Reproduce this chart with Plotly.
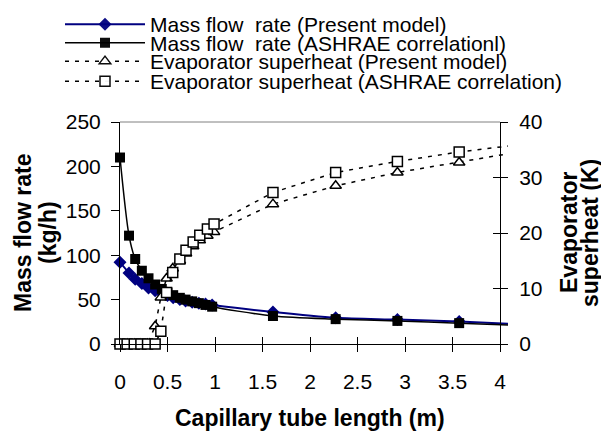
import plotly.graph_objects as go

# ---- data ----
length_mass = [0, 0.095, 0.16, 0.23, 0.30, 0.37, 0.44, 0.50, 0.56, 0.63, 0.69, 0.76, 0.83, 0.90, 0.97, 1.61, 2.27, 2.92, 3.57, 4.2]
mass_present = [92, 80, 73, 68, 63, 60, 57, 54.5, 52, 50, 48.5, 47, 46, 45, 44, 36, 29.5, 27.5, 25.3, 22.4]
mass_ashrae = [210, 122, 95.7, 82.5, 74, 67, 62, 58, 55, 52, 50, 48, 46, 44, 42, 31.5, 28, 26, 23.5, 21]

length_sh = [0, 0.075, 0.15, 0.22, 0.29, 0.37, 0.43, 0.49, 0.555, 0.63, 0.695, 0.77, 0.84, 0.92, 0.99, 1.61, 2.27, 2.92, 3.57, 4.2]
sh_present = [0, 0, 0, 0, 0, 3.2, 8.4, 11.8, 13.6, 15.0, 16.3, 17.6, 18.7, 19.5, 20.2, 25.2, 28.5, 30.9, 32.7, 34.6]
sh_ashrae = [0, 0, 0, 0, 0, 0, 2.3, 9.3, 12.9, 15.3, 16.9, 18.4, 19.6, 20.7, 21.6, 27.3, 30.9, 32.9, 34.6, 35.9]

x_ticks = [0, 0.5, 1, 1.5, 2, 2.5, 3, 3.5, 4]
x_ticktext = ["0", "0.5", "1", "1.5", "2", "2.5", "3", "3.5", "4"]
y_ticks = [0, 50, 100, 150, 200, 250]
y2_ticks = [0, 10, 20, 30, 40]

names = ["Mass flow  rate (Present model)", "Mass flow  rate (ASHRAE correlationl)",
         "Evaporator superheat (Present model)", "Evaporator superheat (ASHRAE correlation)"]

FONT = "Liberation Sans, Arial, sans-serif"
# the page body adds an 8px offset; the figure is sized so it ends at the window edge
OFF = 8
W, H = 609 - OFF, 436 - OFF
PL, PR, PT, PB = 120, 508, 122, 344          # plot area in window pixels
ML, MR, MT, MB = PL - OFF, W - (PR - OFF), PT - OFF, H - (PB - OFF)
PW, PH = PR - PL, PB - PT
XMAX = 4.084
pos_right = (500 - PL) / PW


def px_x(px):
    return (px - PL) / PW


def px_y(py):
    return (PB - py) / PH


def hide_last(n):
    # last point lies beyond the axis end; only its line segment is seen
    return [1] * (n - 1) + [0]


fig = go.Figure()
fig.add_trace(go.Scatter(
    x=length_mass, y=mass_present, name=names[0], mode="lines+markers",
    line=dict(color="#000080", width=2, shape="spline", smoothing=0.8),
    marker=dict(symbol="diamond", size=10, color="#000080",
                opacity=hide_last(len(length_mass))),
    cliponaxis=False, legend="legend"))
fig.add_trace(go.Scatter(
    x=length_mass, y=mass_ashrae, name=names[1], mode="lines+markers",
    line=dict(color="black", width=1.5, shape="spline", smoothing=0.8),
    marker=dict(symbol="square", size=10, color="black",
                opacity=hide_last(len(length_mass))),
    cliponaxis=False, legend="legend2"))
fig.add_trace(go.Scatter(
    x=length_sh, y=sh_present, name=names[2], mode="lines+markers", yaxis="y2",
    line=dict(color="black", width=1.5, dash="4px,6px"),
    marker=dict(symbol="triangle-up", size=10, color="white",
                opacity=hide_last(len(length_sh)),
                line=dict(color="black", width=1.5)),
    cliponaxis=False, legend="legend3"))
fig.add_trace(go.Scatter(
    x=length_sh, y=sh_ashrae, name=names[3], mode="lines+markers", yaxis="y2",
    line=dict(color="black", width=1.5, dash="4px,6px"),
    marker=dict(symbol="square", size=10, color="white",
                opacity=hide_last(len(length_sh)),
                line=dict(color="black", width=1.5)),
    cliponaxis=False, legend="legend4"))
# empty helper trace so the tick-only overlay axes get a subplot
fig.add_trace(go.Scatter(x=[], y=[], xaxis="x2", yaxis="y3", showlegend=False,
                         hoverinfo="skip"))

axis_font = dict(family=FONT, size=21, color="black")
title_font = dict(family=FONT, size=23, color="black", weight="bold")
common = dict(showgrid=False, zeroline=False)

legend_rows = [24.5, 43, 61.5, 81.5]
legends = {}
for i, yy in enumerate(legend_rows):
    key = "legend" if i == 0 else f"legend{i + 1}"
    legends[key] = dict(
        xref="paper", yref="paper", x=px_x(60), y=px_y(yy),
        xanchor="left", yanchor="middle", bgcolor="rgba(0,0,0,0)",
        font=dict(family=FONT, size=21, color="black"), itemwidth=80,
        borderwidth=0, tracegroupgap=0)


def title_ann(text, sx, sy, angle=0):
    return dict(text=text, xref="paper", yref="paper", x=px_x(sx), y=px_y(sy),
                textangle=angle, xanchor="center", yanchor="middle",
                showarrow=False, font=title_font)


mid_y = (PT + PB) / 2
fig.update_layout(
    width=W, height=H,
    margin=dict(l=ML, r=MR, t=MT, b=MB, pad=0, autoexpand=False),
    paper_bgcolor="white", plot_bgcolor="white",
    font=dict(family=FONT, color="black"),
    showlegend=True,
    xaxis=dict(range=[0, XMAX], tickvals=x_ticks, ticktext=x_ticktext,
               ticks="outside", ticklen=7, tickcolor="black", tickwidth=1,
               showline=True, linecolor="black", linewidth=1,
               tickfont=axis_font, ticklabelstandoff=12, anchor="y", **common),
    xaxis2=dict(range=[0, XMAX], tickvals=x_ticks, overlaying="x", anchor="y",
                ticks="inside", ticklen=7, tickcolor="black", tickwidth=1,
                showticklabels=False, showline=False, **common),
    yaxis=dict(range=[0, 250], tickvals=y_ticks, ticks="outside", ticklen=8,
               tickcolor="black", showline=True, linecolor="black", linewidth=1,
               tickfont=axis_font, ticklabelstandoff=6, **common),
    yaxis2=dict(range=[0, 40], tickvals=y2_ticks, overlaying="y", side="right",
                anchor="free", position=pos_right, ticks="outside", ticklen=7,
                tickcolor="black", showline=True, linecolor="black", linewidth=1,
                tickfont=axis_font, ticklabelstandoff=7, **common),
    yaxis3=dict(range=[0, 40], tickvals=y2_ticks, overlaying="y", side="right",
                anchor="free", position=pos_right, ticks="inside", ticklen=7,
                tickcolor="black", showticklabels=False, showline=False, **common),
    shapes=[dict(type="line", xref="paper", yref="paper", x0=0, x1=pos_right,
                 y0=1, y1=1, line=dict(color="#808080", width=1))],
    annotations=[
        title_ann("Capillary tube length (m)", 310, 418),
        title_ann("Mass flow rate", 23, mid_y, -90),
        title_ann("(kg/h)", 48, mid_y, -90),
        title_ann("Evaporator", 569, mid_y, -90),
        title_ann("superheat (K)", 590, mid_y, -90),
    ],
    **legends,
)

fig.write_html("out.html")
